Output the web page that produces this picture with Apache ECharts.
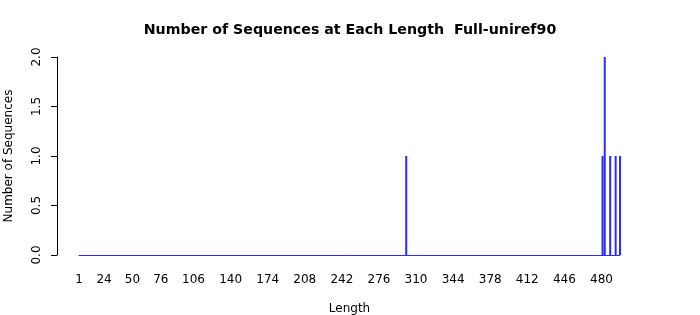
<!DOCTYPE html>
<html>
<head>
<meta charset="utf-8">
<script src="https://cdn.jsdelivr.net/npm/echarts@6/dist/echarts.min.js"></script>
<style>html,body{margin:0;padding:0;background:#fff}#c{width:700px;height:315px}</style>
</head>
<body>
<div id="c"></div>
<script>
// Sequence lengths that occur (x) and how many sequences have each length
const firstLength = 1;
const lastLength = 497;
const seqLengths = [301, 481, 483, 488, 493, 497];
const seqCounts  = [1,   1,   2,   1,   1,   1];
// Tick labels shown on the x axis
const xTickLabels = ['1','24','50','76','106','140','174','208','242','276','310','344','378','412','446','480'];
const yTicks = [0, 0.5, 1, 1.5, 2];

const categories = [];
for (let L = firstLength; L <= lastLength; L++) categories.push(String(L));
const countMap = {};
seqLengths.forEach((l, i) => { countMap[l] = seqCounts[i]; });
const values = categories.map(c => countMap[+c] || 0);

const font = 'DejaVu Sans';
const chart = echarts.init(document.getElementById('c'), null, {renderer: 'canvas'});
chart.setOption({
  animation: false,
  backgroundColor: '#ffffff',
  title: {
    text: 'Number of Sequences at Each Length  Full-uniref90',
    left: 'center', top: 18,
    textStyle: {fontFamily: font, fontSize: 14.2, fontWeight: 'bold', color: '#000'}
  },
  grid: {left: 79, right: 80, top: 57, bottom: 60, outerBoundsMode: 'none', containLabel: false},
  xAxis: {
    type: 'category',
    data: categories,
    boundaryGap: false,
    name: 'Length',
    nameLocation: 'middle',
    nameGap: 48,
    nameTextStyle: {fontFamily: font, fontSize: 12, color: '#000'},
    axisLine: {show: true, lineStyle: {color: '#2a2aff', width: 1}},
    axisTick: {show: false},
    axisLabel: {
      interval: (idx, val) => xTickLabels.indexOf(val) >= 0,
      hideOverlap: false,
      margin: 19,
      fontFamily: font, fontSize: 12, color: '#000'
    },
    splitLine: {show: false}
  },
  yAxis: {
    type: 'value',
    min: 0, max: 2, interval: 0.5,
    offset: 22,
    name: 'Number of Sequences',
    nameLocation: 'middle',
    nameGap: 42,
    nameRotate: 90,
    nameTextStyle: {fontFamily: font, fontSize: 12, color: '#000'},
    axisLine: {show: true, lineStyle: {color: '#000', width: 1}},
    axisTick: {show: true, length: 6, inside: false, lineStyle: {color: '#000'}},
    axisLabel: {
      rotate: 90, margin: 14,
      formatter: v => yTicks.indexOf(v) >= 0 ? v.toFixed(1) : '',
      fontFamily: font, fontSize: 12, color: '#000'
    },
    splitLine: {show: false}
  },
  series: [{
    type: 'bar',
    data: values,
    barWidth: 2,
    itemStyle: {color: '#2a2aff'}
  }]
});
</script>
</body>
</html>
